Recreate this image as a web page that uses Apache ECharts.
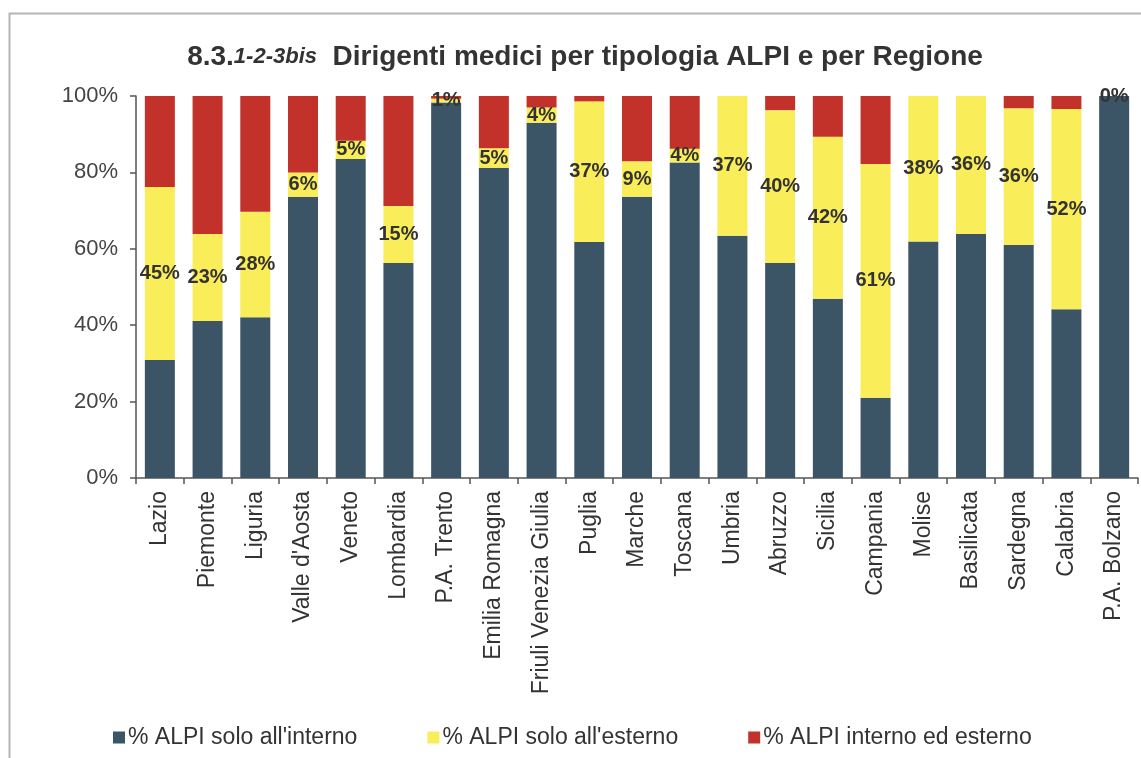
<!DOCTYPE html>
<html>
<head>
<meta charset="utf-8">
<style>
  html, body { margin: 0; padding: 0; background: #fff; }
  #chart { width: 1141px; height: 758px; }
</style>
<script src="https://cdn.jsdelivr.net/npm/echarts@6/dist/echarts.min.js"></script>
</head>
<body>
<div id="chart"></div>
<script>
const regions = ["Lazio", "Piemonte", "Liguria", "Valle d'Aosta", "Veneto", "Lombardia",
  "P.A. Trento", "Emilia Romagna", "Friuli Venezia Giulia", "Puglia", "Marche", "Toscana",
  "Umbria", "Abruzzo", "Sicilia", "Campania", "Molise", "Basilicata", "Sardegna",
  "Calabria", "P.A. Bolzano"];

// % ALPI solo all'interno
const interno = [30.9, 41.1, 42.1, 73.6, 83.5, 56.3, 98.3, 81.2, 93.0, 61.8, 73.6, 82.6,
  63.4, 56.3, 46.9, 21.0, 61.9, 63.9, 61.0, 44.2, 100];
// % ALPI solo all'esterno
const esterno = [45.3, 22.8, 27.6, 6.4, 4.8, 14.9, 1.0, 5.1, 4.0, 36.8, 9.3, 3.6,
  36.6, 40.0, 42.4, 61.2, 38.1, 36.1, 35.8, 52.4, 0];
// % ALPI interno ed esterno
const entrambi = [23.8, 36.1, 30.3, 20.0, 11.7, 28.8, 0.7, 13.7, 3.0, 1.4, 17.1, 13.8,
  0, 3.7, 10.7, 17.8, 0, 0, 3.2, 3.4, 0];

const yTicks = [0, 20, 40, 60, 80, 100];

const chart = echarts.init(document.getElementById("chart"));
const font = "Liberation Sans, Arial, sans-serif";

chart.setOption({
  textStyle: { fontFamily: font },
  animation: false,
  graphic: [{
    type: "rect",
    shape: { x: 9.5, y: 13.5, width: 1150, height: 760 },
    style: { fill: "none", stroke: "#b5b5b5", lineWidth: 2 }
  }],
  title: {
    text: "{a|8.3.}{b|1-2-3bis}{a|  Dirigenti medici per tipologia ALPI e per Regione}",
    left: 580,
    textAlign: "center",
    top: 38,
    textStyle: {
      rich: {
        a: { fontSize: 28, fontWeight: "bold", color: "#333", fontFamily: font },
        b: { fontSize: 22, fontWeight: "bold", fontStyle: "italic", color: "#333", fontFamily: font }
      }
    }
  },
  legend: {
    bottom: 4,
    left: 108,
    itemWidth: 12,
    itemHeight: 12,
    itemGap: 70,
    icon: "rect",
    textStyle: { fontSize: 23, color: "#333", fontFamily: font, padding: [0, 0, 0, -2] },
    data: ["% ALPI solo all'interno", "% ALPI solo all'esterno", "% ALPI interno ed esterno"]
  },
  grid: { left: 136, right: 3, top: 96, bottom: 280 },
  xAxis: {
    type: "category",
    data: regions,
    axisLine: { lineStyle: { color: "#555", width: 1.5 } },
    axisTick: { show: true, length: 6, lineStyle: { color: "#555", width: 1.5 } },
    axisLabel: { rotate: 90, fontSize: 23, color: "#333", margin: 13, interval: 0 }
  },
  yAxis: {
    type: "value",
    min: yTicks[0],
    max: yTicks[yTicks.length - 1],
    interval: 20,
    axisLine: { show: true, lineStyle: { color: "#555", width: 1.5 } },
    axisTick: { show: true, length: 6, lineStyle: { color: "#555", width: 1.5 } },
    splitLine: { show: false },
    axisLabel: { fontSize: 22, color: "#444", margin: 18, formatter: "{value}%" }
  },
  series: [
    {
      name: "% ALPI solo all'interno",
      type: "bar",
      stack: "tot",
      barWidth: 30,
      itemStyle: { color: "#3b5567" },
      data: interno
    },
    {
      name: "% ALPI solo all'esterno",
      type: "bar",
      stack: "tot",
      itemStyle: { color: "#f9ed5a" },
      label: {
        show: true,
        position: "inside",
        fontSize: 20,
        fontWeight: "bold",
        color: "#333",
        formatter: (p) => Math.round(p.value) + "%"
      },
      data: esterno
    },
    {
      name: "% ALPI interno ed esterno",
      type: "bar",
      stack: "tot",
      itemStyle: { color: "#c3312b" },
      data: entrambi
    }
  ]
});
</script>
</body>
</html>
